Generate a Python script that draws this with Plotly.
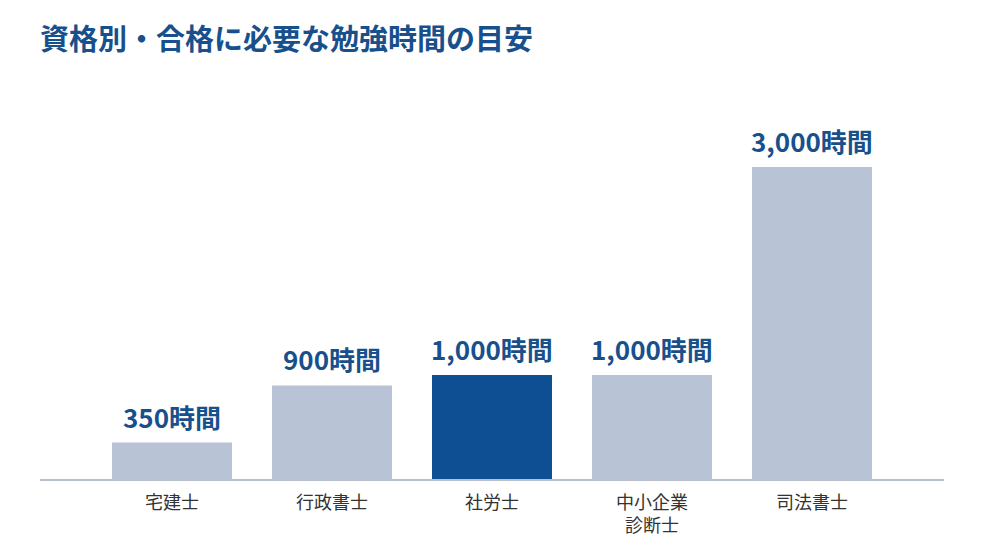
import plotly.graph_objects as go

categories = ["宅建士", "行政書士", "社労士", "中小企業<br>診断士", "司法書士"]
hours = [350, 900, 1000, 1000, 3000]
value_labels = ["350時間", "900時間", "1,000時間", "1,000時間", "3,000時間"]
highlight = "社労士"

LIGHT = "#b8c4d6"
DARK = "#0e4f94"
TEXT_BLUE = "#17508c"
FONT = "Noto Sans CJK JP"

colors = [DARK if c == highlight else LIGHT for c in categories]
xs = list(range(len(categories)))

fig = go.Figure()
fig.add_trace(go.Bar(
    x=xs,
    y=hours,
    width=0.75,
    marker=dict(color=colors, line=dict(width=0)),
    hoverinfo="skip",
))

for xi, h, lab in zip(xs, hours, value_labels):
    fig.add_annotation(
        x=xi, y=h, xref="x", yref="y",
        text=f"<b>{lab}</b>", showarrow=False,
        xanchor="center", yanchor="bottom", yshift=6,
        font=dict(family=FONT, size=26, color=TEXT_BLUE),
    )

fig.update_layout(
    width=984, height=560,
    margin=dict(l=40, r=40, t=100, b=81),
    paper_bgcolor="white", plot_bgcolor="white",
    showlegend=False,
    title=dict(
        text="<b>資格別・合格に必要な勉強時間の目安</b>",
        x=0, xref="paper", xanchor="left",
        y=1 - 40/560, yref="container", yanchor="middle",
        font=dict(family=FONT, size=29, color=TEXT_BLUE),
        pad=dict(l=0),
    ),
    xaxis=dict(
        range=[-0.825, 4.825],
        tickmode="array",
        tickvals=xs,
        ticktext=categories,
        showgrid=False, zeroline=False,
        showline=True, linecolor="#b9c1cc", linewidth=2,
        ticks="", ticklabelstandoff=6,
        tickfont=dict(family=FONT, size=18, color="#333333"),
        fixedrange=True,
    ),
    yaxis=dict(
        range=[0, 3644],
        visible=False,
        showgrid=False, zeroline=False,
        fixedrange=True,
    ),
)

fig.write_html("out.html")
